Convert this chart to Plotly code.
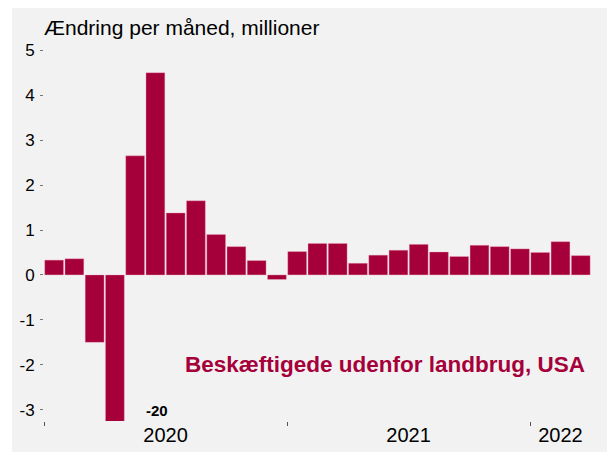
import plotly.graph_objects as go

months = ["2020-01","2020-02","2020-03","2020-04","2020-05","2020-06","2020-07","2020-08",
          "2020-09","2020-10","2020-11","2020-12","2021-01","2021-02","2021-03","2021-04",
          "2021-05","2021-06","2021-07","2021-08","2021-09","2021-10","2021-11","2021-12",
          "2022-01","2022-02","2022-03"]
change_mio = [0.33, 0.36, -1.50, -20.0, 2.65, 4.50, 1.38, 1.65, 0.90, 0.63, 0.32, -0.10,
              0.52, 0.70, 0.70, 0.26, 0.44, 0.55, 0.68, 0.51, 0.41, 0.66, 0.63, 0.58,
              0.50, 0.74, 0.43]
year_labels = ["2020", "2021", "2022"]
ytick_vals = [-3, -2, -1, 0, 1, 2, 3, 4, 5]

x_idx = list(range(len(months)))
year_of = [m[:4] for m in months]
year_centers = []
year_bounds = []
for y in year_labels:
    idx = [i for i, yy in enumerate(year_of) if yy == y]
    year_centers.append((idx[0] + idx[-1]) / 2)
    year_bounds.append(idx[0] - 0.5)

red = "#a6003a"
FONT = "Liberation Sans, Arial"

# page body has an 8px default margin, so the figure is 8px smaller than the window
W, H = 607, 444
ML, MR, MT, MB = 36, 14, 30.75, 30.75
pw = W - ML - MR
ph = H - MT - MB

fig = go.Figure()
fig.add_trace(go.Bar(
    x=x_idx, y=change_mio, width=0.93,
    marker=dict(color=red, line=dict(color="rgba(240,170,190,0.6)", width=0.6)),
    hoverinfo="skip",
))

apr_i = months.index("2020-04")
fig.add_annotation(x=apr_i, y=-3.02, xref="x", yref="y", text=f"<b>{change_mio[apr_i]:.0f}</b>",
                   showarrow=False, xanchor="left", xshift=29,
                   font=dict(family=FONT, size=15, color="black"))

fig.add_annotation(x=0, y=1, xref="paper", yref="paper", yanchor="bottom", xanchor="left",
                   text="Ændring per måned, millioner", showarrow=False, xshift=-2, yshift=-2,
                   font=dict(family=FONT, size=21, color="black"))

fig.add_annotation(x=0.975, y=-2.0, xref="paper", yref="y", xanchor="right", yanchor="middle",
                   text="<b>Beskæftigede udenfor landbrug, USA</b>", showarrow=False,
                   font=dict(family=FONT, size=22.5, color=red))

# grey panel (from 4px right of the figure's left edge to the edges)
fig.add_shape(type="rect", xref="paper", yref="paper",
              x0=(4 - ML) / pw, x1=(W - ML + 5) / pw,
              y0=-(MB + 5) / ph, y1=(ph + MT + 5) / ph,
              fillcolor="#f2f2f2", line=dict(width=0), layer="below")

fig.update_layout(
    width=W, height=H,
    margin=dict(l=ML, r=MR, t=MT, b=MB),
    paper_bgcolor="white", plot_bgcolor="#f2f2f2",
    showlegend=False,
    font=dict(family=FONT, size=16, color="black"),
    xaxis=dict(range=[-0.5, 27.0], showgrid=False, zeroline=False, showline=False,
               tickvals=year_centers, ticktext=year_labels, ticks="",
               tickfont=dict(size=20), fixedrange=True, automargin=False,
               minor=dict(tickvals=year_bounds, ticks="outside", ticklen=4, tickcolor="#555",
                          tickwidth=1, showgrid=False)),
    yaxis=dict(range=[-3.25, 5.25], showgrid=False, zeroline=False, showline=False,
               tickvals=ytick_vals, ticktext=[str(v) for v in ytick_vals],
               ticks="outside", ticklen=3, tickcolor="#777", tickwidth=1,
               tickfont=dict(size=17), ticklabelstandoff=2, fixedrange=True, automargin=False),
)

fig.write_html("out.html")
